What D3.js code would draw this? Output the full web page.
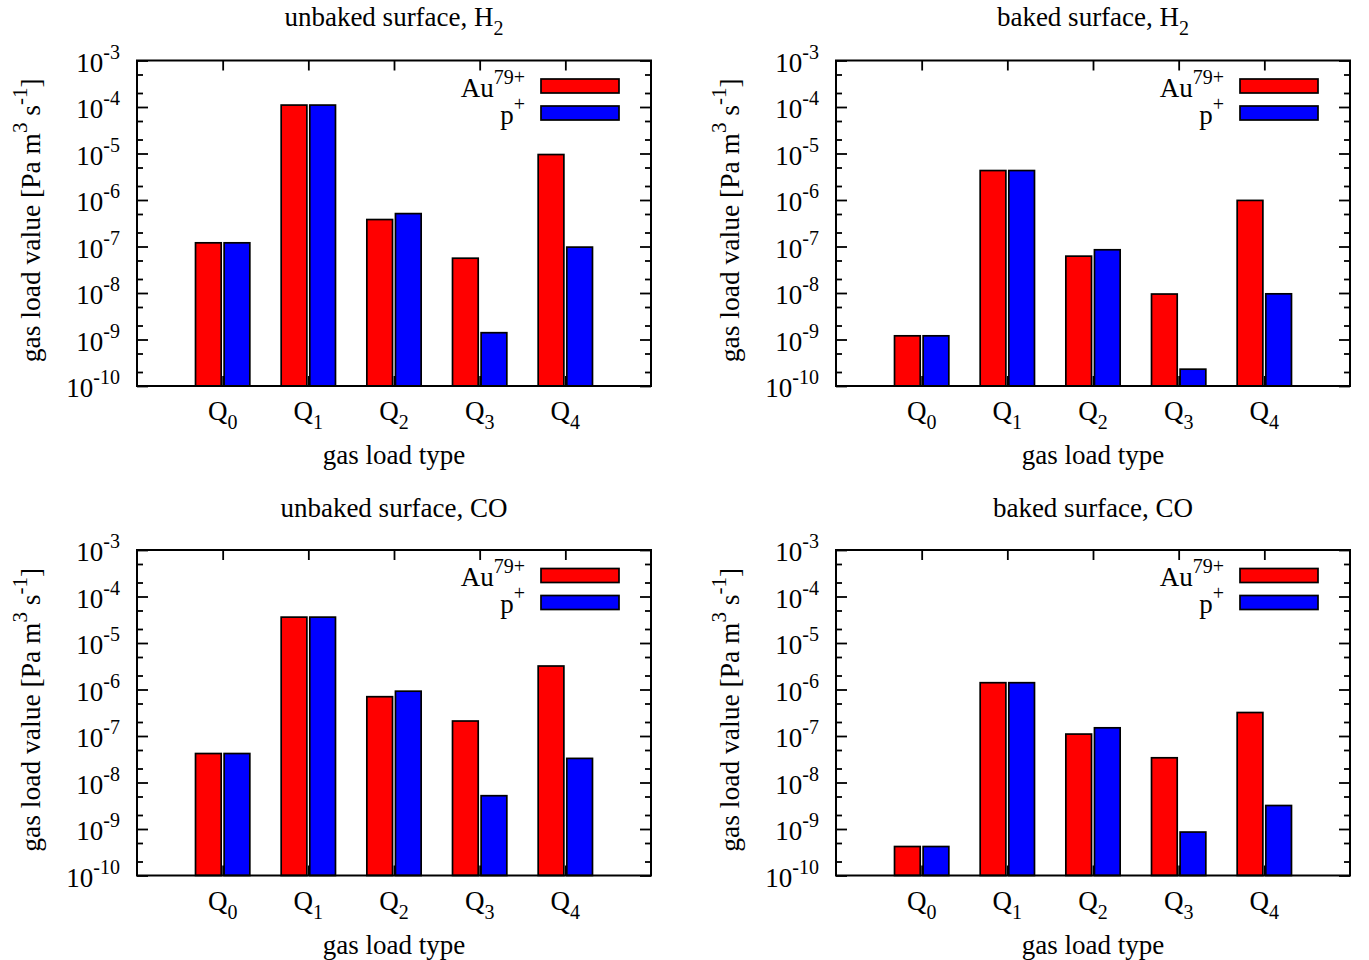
<!DOCTYPE html>
<html>
<head>
<meta charset="utf-8">
<script src="https://cdn.jsdelivr.net/npm/d3@7"></script>
<style>
  body { margin: 0; background: #fff; }
  svg { display: block; }
  text { font-family: "Liberation Serif", "Times New Roman", Times, serif; fill: #000; }
</style>
</head>
<body>
<svg id="chart" width="1369" height="960"></svg>
<script>
// Gas load categories (Q with subscript index)
const categories = ["0", "1", "2", "3", "4"];

// Ion species shown in every panel
const speciesBase = ["Au", "p"];
const speciesSup = ["79+", "+"];
const speciesColors = ["#ff0000", "#0000ff"];

// Panel titles: main text + optional subscript
const titleMain = ["unbaked surface, H", "baked surface, H", "unbaked surface, CO", "baked surface, CO"];
const titleSub = ["2", "2", "", ""];

// Gas load values [Pa m^3 s^-1], order Q0..Q4
const h2UnbakedAu = [1.2e-7, 1.1e-4, 3.8e-7, 5.6e-8, 9.5e-6];
const h2UnbakedP  = [1.2e-7, 1.1e-4, 5.1e-7, 1.4e-9, 9.7e-8];
const h2BakedAu   = [1.2e-9, 4.3e-6, 6.2e-8, 9.5e-9, 9.8e-7];
const h2BakedP    = [1.2e-9, 4.3e-6, 8.5e-8, 2.3e-10, 9.6e-9];
const coUnbakedAu = [4.2e-8, 3.6e-5, 7.0e-7, 2.1e-7, 3.2e-6];
const coUnbakedP  = [4.2e-8, 3.6e-5, 9.2e-7, 5.2e-9, 3.3e-8];
const coBakedAu   = [4.2e-10, 1.4e-6, 1.1e-7, 3.4e-8, 3.2e-7];
const coBakedP    = [4.2e-10, 1.4e-6, 1.5e-7, 8.6e-10, 3.2e-9];

// Log axis decades and minor-tick multipliers
const yMajorTicks = [1e-10, 1e-9, 1e-8, 1e-7, 1e-6, 1e-5, 1e-4, 1e-3];
const yMinorMultipliers = [2, 5];

const panelSeries = [
  [h2UnbakedAu, h2UnbakedP],
  [h2BakedAu, h2BakedP],
  [coUnbakedAu, coUnbakedP],
  [coBakedAu, coBakedP]
];

// Layout
const W = 514, H = 325.5;
const origins = [[137, 60.5], [836, 60.5], [137, 550], [836, 550]];
const titleOffsets = [-35, -35, -33, -33];
const FS = 27, FS_SMALL = 20, SHIFT = 13;
const barW = 0.3, barOff = 0.167;

const svg = d3.select("#chart");

function drawPanel(idx) {
  const [ox, oy] = origins[idx];
  const g = svg.append("g").attr("transform", `translate(${ox},${oy})`);

  const x = d3.scaleLinear().domain([-1, 5]).range([0, W]);
  const y = d3.scaleLog().domain([1e-10, 1e-3]).range([H, 0]);

  const minorTicks = [];
  for (let i = 0; i < yMajorTicks.length - 1; i++) {
    yMinorMultipliers.forEach(m => minorTicks.push(m * yMajorTicks[i]));
  }
  const xTicks = categories.map((c, i) => i);

  function tickStyle(sel) {
    sel.select(".domain").remove();
    sel.selectAll(".tick line").attr("stroke", "#000").attr("stroke-width", 1.8);
    sel.selectAll(".tick text").remove();
  }

  // tick marks, mirrored on all four sides, pointing inward
  g.append("g").call(d3.axisLeft(y).tickValues(yMajorTicks).tickSize(-11).tickSizeOuter(0)).call(tickStyle);
  g.append("g").call(d3.axisLeft(y).tickValues(minorTicks).tickSize(-6).tickSizeOuter(0)).call(tickStyle);
  g.append("g").attr("transform", `translate(${W},0)`)
    .call(d3.axisRight(y).tickValues(yMajorTicks).tickSize(-11).tickSizeOuter(0)).call(tickStyle);
  g.append("g").attr("transform", `translate(${W},0)`)
    .call(d3.axisRight(y).tickValues(minorTicks).tickSize(-6).tickSizeOuter(0)).call(tickStyle);
  g.append("g").call(d3.axisTop(x).tickValues(xTicks).tickSize(-10).tickSizeOuter(0)).call(tickStyle);
  g.append("g").attr("transform", `translate(0,${H})`)
    .call(d3.axisBottom(x).tickValues(xTicks).tickSize(-10).tickSizeOuter(0)).call(tickStyle);

  // y tick labels: 10 with superscript exponent
  const yl = g.append("g").selectAll("text").data(yMajorTicks).join("text")
    .attr("x", -17).attr("y", d => y(d) + 11)
    .attr("text-anchor", "end").attr("font-size", FS);
  yl.append("tspan").text("10");
  yl.append("tspan").attr("dy", -SHIFT).attr("font-size", FS_SMALL)
    .text(d => String(Math.round(Math.log10(d))));

  // x tick labels: Q with subscript
  const xl = g.append("g").selectAll("text").data(categories).join("text")
    .attr("x", (d, i) => x(i)).attr("y", H + 34)
    .attr("text-anchor", "middle").attr("font-size", FS);
  xl.append("tspan").text("Q");
  xl.append("tspan").attr("dy", 9).attr("font-size", FS_SMALL).text(d => d);

  // bars
  panelSeries[idx].forEach((vals, s) => {
    const off = s === 0 ? -barOff : barOff;
    g.append("g").selectAll("rect").data(vals).join("rect")
      .attr("x", (d, i) => x(i + off - barW / 2))
      .attr("width", x(barW) - x(0))
      .attr("y", d => y(d))
      .attr("height", d => H - y(d))
      .attr("fill", speciesColors[s])
      .attr("stroke", "#000")
      .attr("stroke-width", 1.7);
  });

  // frame
  g.append("rect").attr("width", W).attr("height", H)
    .attr("fill", "none").attr("stroke", "#000").attr("stroke-width", 2);

  // legend
  speciesBase.forEach((name, s) => {
    const t = g.append("text").attr("x", 388).attr("y", 36 + s * 27)
      .attr("text-anchor", "end").attr("font-size", FS);
    t.append("tspan").text(name);
    t.append("tspan").attr("dy", -SHIFT).attr("font-size", FS_SMALL).text(speciesSup[s]);
    g.append("rect").attr("x", W - 110).attr("y", 18.5 + s * 27)
      .attr("width", 78).attr("height", 14)
      .attr("fill", speciesColors[s]).attr("stroke", "#000").attr("stroke-width", 1.7);
  });

  // title
  const tt = g.append("text").attr("x", W / 2).attr("y", titleOffsets[idx])
    .attr("text-anchor", "middle").attr("font-size", FS);
  tt.append("tspan").text(titleMain[idx]);
  if (titleSub[idx]) tt.append("tspan").attr("dy", 9).attr("font-size", FS_SMALL).text(titleSub[idx]);

  // axis titles
  g.append("text").attr("x", W / 2).attr("y", H + 78)
    .attr("text-anchor", "middle").attr("font-size", FS).text("gas load type");

  const yt = g.append("text").attr("transform", `translate(-97,${H / 2 - 3}) rotate(-90)`)
    .attr("text-anchor", "middle").attr("font-size", 27.5);
  yt.append("tspan").text("gas load value [Pa m");
  yt.append("tspan").attr("dy", -SHIFT).attr("font-size", 21).text("3");
  yt.append("tspan").attr("dy", SHIFT).text(" s");
  yt.append("tspan").attr("dy", -SHIFT).attr("font-size", 21).text("-1");
  yt.append("tspan").attr("dy", SHIFT).text("]");
}

for (let i = 0; i < 4; i++) drawPanel(i);
</script>
</body>
</html>
